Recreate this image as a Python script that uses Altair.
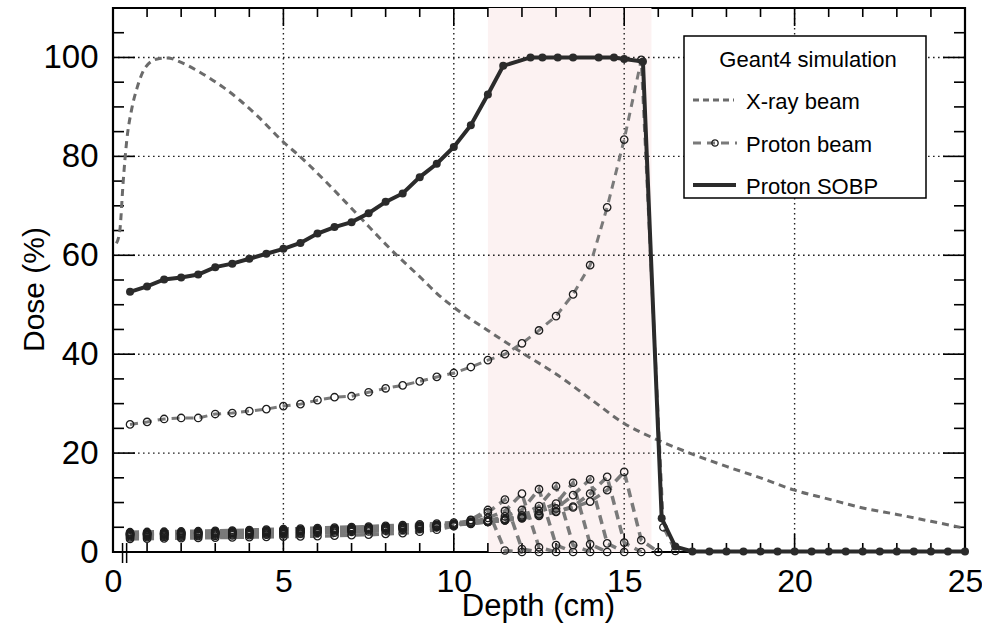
import altair as alt
import pandas as pd

# ---------------- data ----------------
# X-ray beam depth-dose (cm, %)
xray_depth = [0.1, 0.2, 0.3, 0.4, 0.55, 0.7, 0.95, 1.3, 1.6, 2.0, 2.55, 3.25, 3.75, 4.25,
              5.0, 5.5, 6.2, 7.15, 8.15, 9.1, 9.5, 10.0, 11.0, 12.0, 13.0, 14.0, 15.0,
              16.0, 17.0, 18.0, 19.0, 20.0, 21.0, 22.0, 23.0, 24.0, 25.0]
xray_dose = [62.4, 65.0, 75.0, 83.0, 89.6, 93.7, 98.0, 99.7, 99.9, 99.0, 97.0, 93.9, 91.2, 88.1,
             82.9, 79.9, 75.2, 68.4, 61.2, 55.0, 52.3, 49.5, 44.8, 40.3, 36.0, 31.0, 26.0,
             22.6, 19.8, 17.3, 15.0, 12.5, 10.7, 8.9, 7.6, 6.2, 4.8]

# Pristine proton beam (Bragg peak)
proton_depth = [0.5, 1.0, 1.5, 2.0, 2.5, 3.0, 3.5, 4.0, 4.5, 5.0, 5.5, 6.0, 6.5, 7.0, 7.5, 8.0,
                8.5, 9.0, 9.5, 10.0, 10.5, 11.0, 11.5, 12.0, 12.5, 13.0, 13.5, 14.0, 14.5,
                15.0, 15.5, 16.15, 16.5]
proton_dose = [25.8, 26.3, 26.9, 27.1, 27.1, 27.9, 28.1, 28.5, 28.9, 29.5, 29.9, 30.7, 31.3,
               31.5, 32.3, 33.1, 33.7, 34.5, 35.4, 36.2, 37.4, 38.8, 40.0, 42.2, 44.8, 47.7,
               52.1, 58.0, 69.7, 83.4, 99.5, 5.0, 0.2]

# Spread-out Bragg peak
sobp_depth = [0.5, 1.0, 1.5, 2.0, 2.5, 3.0, 3.5, 4.0, 4.5, 5.0, 5.5, 6.0, 6.5, 7.0, 7.5, 8.0,
              8.5, 9.0, 9.5, 10.0, 10.5, 11.0, 11.45, 12.25, 12.6, 13.05, 13.5, 14.25, 14.7,
              15.0, 15.55, 16.1, 16.5, 17.0, 17.5, 18.0, 18.5, 19.0, 19.5, 20.0, 20.5, 21.0,
              21.5, 22.0, 22.5, 23.0, 23.5, 24.0, 24.5, 25.0]
sobp_dose = [52.6, 53.7, 55.1, 55.5, 56.1, 57.6, 58.3, 59.3, 60.3, 61.3, 62.5, 64.4, 65.7,
             66.7, 68.5, 70.8, 72.5, 75.8, 78.5, 81.9, 86.3, 92.5, 98.3, 100.0, 100.0, 100.0,
             100.0, 100.0, 100.0, 99.7, 99.2, 6.8, 1.1, 0.1, 0.1, 0.1, 0.1, 0.1, 0.1, 0.1,
             0.1, 0.1, 0.1, 0.1, 0.1, 0.1, 0.1, 0.1, 0.1, 0.1]

# Weighted pristine peaks; each list starts at depth 0.5 cm in 0.5 cm steps
grid_depth = [0.5, 1.0, 1.5, 2.0, 2.5, 3.0, 3.5, 4.0, 4.5, 5.0, 5.5, 6.0, 6.5, 7.0, 7.5, 8.0,
              8.5, 9.0, 9.5, 10.0, 10.5, 11.0, 11.5, 12.0, 12.5, 13.0, 13.5, 14.0, 14.5, 15.0,
              15.5, 16.0, 16.5]
peak_110 = [2.65, 2.7, 2.75, 2.8, 2.85, 2.9, 2.95, 3.0, 3.05, 3.1, 3.15, 3.2, 3.3, 3.4, 3.5,
            3.65, 3.8, 4.1, 4.5, 5.2, 6.5, 8.5, 0.3, 0.0]
peak_115 = [2.95, 3.0, 3.05, 3.1, 3.2, 3.25, 3.35, 3.4, 3.5, 3.6, 3.7, 3.85, 3.9, 4.05, 4.15,
            4.3, 4.45, 4.65, 5.0, 5.5, 6.4, 8.0, 10.6, 0.6, 0.0]
peak_120 = [3.2, 3.25, 3.3, 3.35, 3.4, 3.5, 3.55, 3.65, 3.75, 3.85, 3.95, 4.05, 4.15, 4.25,
            4.4, 4.5, 4.7, 4.9, 5.1, 5.5, 6.0, 6.9, 8.3, 11.8, 0.95, 0.0]
peak_125 = [3.4, 3.45, 3.5, 3.55, 3.6, 3.7, 3.75, 3.85, 3.95, 4.05, 4.15, 4.25, 4.35, 4.45,
            4.55, 4.7, 4.85, 5.0, 5.2, 5.4, 5.8, 6.3, 7.2, 8.5, 12.7, 1.4, 0.0]
peak_130 = [3.5, 3.55, 3.6, 3.65, 3.7, 3.8, 3.85, 3.95, 4.05, 4.15, 4.25, 4.35, 4.45, 4.55,
            4.7, 4.8, 4.95, 5.1, 5.25, 5.45, 5.7, 6.1, 6.6, 7.4, 9.3, 13.3, 1.4, 0.0]
peak_135 = [3.6, 3.65, 3.7, 3.75, 3.8, 3.9, 3.95, 4.05, 4.15, 4.25, 4.35, 4.45, 4.55, 4.65,
            4.8, 4.9, 5.05, 5.2, 5.4, 5.6, 5.8, 6.1, 6.5, 7.1, 8.3, 9.8, 14.0, 1.6, 0.0]
peak_140 = [3.7, 3.75, 3.8, 3.85, 3.9, 4.0, 4.05, 4.15, 4.25, 4.35, 4.45, 4.55, 4.65, 4.75,
            4.9, 5.0, 5.15, 5.3, 5.45, 5.65, 5.85, 6.1, 6.4, 6.9, 7.6, 8.8, 11.5, 14.7, 1.75, 0.0]
peak_145 = [3.8, 3.85, 3.9, 3.95, 4.0, 4.1, 4.15, 4.25, 4.35, 4.45, 4.55, 4.65, 4.75, 4.85,
            4.95, 5.1, 5.2, 5.35, 5.5, 5.7, 5.9, 6.1, 6.4, 6.8, 7.3, 8.1, 9.2, 11.8, 15.2, 1.9, 0.0]
peak_150 = [4.0, 4.05, 4.1, 4.15, 4.2, 4.3, 4.35, 4.45, 4.55, 4.65, 4.75, 4.85, 4.95, 5.05,
            5.15, 5.3, 5.45, 5.6, 5.75, 5.95, 6.15, 6.4, 6.7, 7.1, 7.6, 8.2, 9.0, 10.2, 12.5,
            16.2, 2.4, 0.0]
pristine = {"p11.0": peak_110, "p11.5": peak_115, "p12.0": peak_120, "p12.5": peak_125,
            "p13.0": peak_130, "p13.5": peak_135, "p14.0": peak_140, "p14.5": peak_145,
            "p15.0": peak_150}

sobp_region = [11.0, 15.8]
x_major = [0, 5, 10, 15, 20, 25]
x_minor = [1, 2, 3, 4, 6, 7, 8, 9, 11, 12, 13, 14, 16, 17, 18, 19, 21, 22, 23, 24]
y_major = [0, 20, 40, 60, 80, 100]
y_minor = [5, 10, 15, 25, 30, 35, 45, 50, 55, 65, 70, 75, 85, 90, 95, 105]
break_marks = [0.28, 0.40]

legend_title = "Geant4 simulation"
legend_labels = ["X-ray beam", "Proton beam", "Proton SOBP"]

# ---------------- chart ----------------
FONT = "Liberation Sans"
W, H = 852, 544
xsc = alt.Scale(domain=[0, 25], nice=False, zero=False)
ysc = alt.Scale(domain=[0, 110], nice=False, zero=False)

x_axis = alt.Axis(values=x_major, ticks=False, domain=False, grid=False, format="d",
                  labelFont=FONT, labelFontSize=32, labelColor="black", labelPadding=14,
                  labelFlush=False, labelOverlap=False,
                  title="Depth (cm)", titleFont=FONT, titleFontSize=31, titleFontWeight="normal",
                  titleColor="black", titleX=425, titleY=63, titleAlign="center",
                  titleBaseline="alphabetic")
y_axis = alt.Axis(values=y_major, ticks=False, domain=False, grid=False, format="d",
                  labelFont=FONT, labelFontSize=33, labelColor="black", labelPadding=15,
                  labelFlush=False, labelOverlap=False,
                  title="Dose (%)", titleFont=FONT, titleFontSize=30, titleFontWeight="normal",
                  titleColor="black", titleX=-70, titleY=281, titleAngle=270,
                  titleAlign="center", titleBaseline="alphabetic")


def X(field):
    return alt.X(field, type="quantitative", scale=xsc, axis=x_axis, title="Depth (cm)")


def Y(field):
    return alt.Y(field, type="quantitative", scale=ysc, axis=y_axis, title="Dose (%)")


one = pd.DataFrame({"k": [0]})

band = alt.Chart(pd.DataFrame({"a": [sobp_region[0]], "b": [sobp_region[1]]})).mark_rect(
    color="#fcf2f2").encode(x=X("a"), x2="b:Q", y=alt.value(0), y2=alt.value(H))

xgrid = alt.Chart(pd.DataFrame({"v": x_major[1:-1]})).mark_rule(
    color="#222", strokeWidth=1.4, strokeDash=[1.6, 3.4]).encode(
    x=X("v"), y=alt.value(0), y2=alt.value(H))
ygrid = alt.Chart(pd.DataFrame({"v": y_major[1:]})).mark_rule(
    color="#222", strokeWidth=1.4, strokeDash=[1.6, 3.4]).encode(
    y=Y("v"), x=alt.value(0), x2=alt.value(W))


def yticks(vals, length):
    d = pd.DataFrame({"v": vals})
    left = alt.Chart(d).mark_rule(color="black", strokeWidth=1.6).encode(
        y=Y("v"), x=alt.value(0), x2=alt.value(length))
    right = alt.Chart(d).mark_rule(color="black", strokeWidth=1.6).encode(
        y=Y("v"), x=alt.value(W), x2=alt.value(W - length))
    return [left, right]


def xticks(vals, length):
    d = pd.DataFrame({"v": vals})
    bottom = alt.Chart(d).mark_rule(color="black", strokeWidth=1.6).encode(
        x=X("v"), y=alt.value(H), y2=alt.value(H - length))
    top = alt.Chart(d).mark_rule(color="black", strokeWidth=1.6).encode(
        x=X("v"), y=alt.value(0), y2=alt.value(length))
    return [bottom, top]


breaks = alt.Chart(pd.DataFrame({"v": break_marks})).mark_rule(
    color="black", strokeWidth=1.5).encode(
    x=X("v"), y=alt.value(H - 9), y2=alt.value(H + 11))

xray_df = pd.DataFrame({"depth": xray_depth, "dose": xray_dose})
xray = alt.Chart(xray_df).mark_line(color="#6b6b6b", strokeWidth=3, strokeDash=[7, 5],
                                    interpolate="monotone").encode(
    x=X("depth"), y=Y("dose"))

rows = []
for name, vals in pristine.items():
    for d, v in zip(grid_depth, vals):
        rows.append({"curve": name, "depth": d, "dose": v})
pr_df = pd.DataFrame(rows)
pr_line = alt.Chart(pr_df).mark_line(color="#7a7a7a", strokeWidth=3.5, strokeDash=[9, 6]).encode(
    x=X("depth"), y=Y("dose"), detail="curve:N")
pr_pts = alt.Chart(pr_df).mark_point(shape="circle", filled=False, color="#1e1e1e",
                                     strokeWidth=1.3, size=55, opacity=1).encode(
    x=X("depth"), y=Y("dose"))

pb_df = pd.DataFrame({"depth": proton_depth, "dose": proton_dose})
pb_line = alt.Chart(pb_df).mark_line(color="#7a7a7a", strokeWidth=3, strokeDash=[8, 6]).encode(
    x=X("depth"), y=Y("dose"))
pb_pts = alt.Chart(pb_df).mark_point(shape="circle", filled=False, color="#1e1e1e",
                                     strokeWidth=1.3, size=55, opacity=1).encode(
    x=X("depth"), y=Y("dose"))

sobp_df = pd.DataFrame({"depth": sobp_depth, "dose": sobp_dose})
sobp_line = alt.Chart(sobp_df).mark_line(color="#2b2b2b", strokeWidth=4).encode(
    x=X("depth"), y=Y("dose"))
sobp_pts = alt.Chart(sobp_df).mark_circle(color="#2b2b2b", size=64, opacity=1).encode(
    x=X("depth"), y=Y("dose"))

# ---------------- legend ----------------
lg_box = alt.Chart(one).mark_rect(fill="white", stroke="black", strokeWidth=1.5).encode(
    x=alt.value(571), x2=alt.value(813), y=alt.value(28), y2=alt.value(190))
lg_title = alt.Chart(one).mark_text(text=legend_title, font=FONT, fontSize=22, align="center",
                                    baseline="alphabetic", color="black").encode(
    x=alt.value(695), y=alt.value(59))
lg_texts = [
    alt.Chart(one).mark_text(text=lab, font=FONT, fontSize=22, align="left",
                             baseline="alphabetic", color="black").encode(
        x=alt.value(633), y=alt.value(yy))
    for lab, yy in zip(legend_labels, [101, 144, 186])
]
lg_xray = alt.Chart(one).mark_rule(color="#6b6b6b", strokeWidth=3, strokeDash=[6, 4]).encode(
    x=alt.value(580), x2=alt.value(621), y=alt.value(92))
lg_pb = alt.Chart(one).mark_rule(color="#7a7a7a", strokeWidth=3, strokeDash=[8, 6]).encode(
    x=alt.value(580), x2=alt.value(624), y=alt.value(135))
lg_pb_pt = alt.Chart(one).mark_point(shape="circle", filled=False, color="#1e1e1e",
                                     strokeWidth=1.3, size=40, opacity=1).encode(
    x=alt.value(602), y=alt.value(135))
lg_sobp = alt.Chart(one).mark_rule(color="#2b2b2b", strokeWidth=4).encode(
    x=alt.value(580), x2=alt.value(623), y=alt.value(177))

layers = [band, xgrid, ygrid] + yticks(y_major, 22) + yticks(y_minor, 11) + \
         xticks(x_major, 18) + xticks(x_minor, 9) + [breaks, xray, pr_line, pr_pts,
                                                       pb_line, pb_pts, sobp_line, sobp_pts,
                                                       lg_box, lg_title] + lg_texts + \
         [lg_xray, lg_pb, lg_pb_pt, lg_sobp]

chart = alt.layer(*layers).properties(
    width=W, height=H,
    autosize=alt.AutoSizeParams(type="none"),
    padding={"left": 113, "top": 8, "right": 17, "bottom": 72},
    background="white",
).configure_view(stroke="black", strokeWidth=2.2)

chart.save("out.html", embed_options={"renderer": "svg", "actions": False})
